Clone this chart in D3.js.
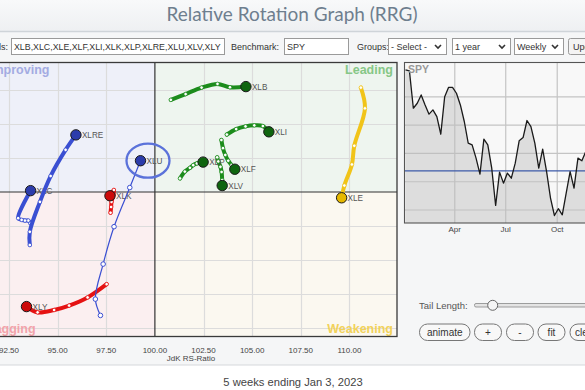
<!DOCTYPE html>
<html><head><meta charset="utf-8">
<script src="https://cdn.jsdelivr.net/npm/d3@7/dist/d3.min.js"></script>
<style>
html,body{margin:0;padding:0;background:#f5f6f7;overflow:hidden;}
svg{display:block;font-family:Arial,"Liberation Sans",sans-serif;}
</style></head><body>
<svg id="c" width="585" height="390"></svg>
<script>
// ---------- DATA ----------
const sectors = ["XLB","XLC","XLE","XLF","XLI","XLK","XLP","XLRE","XLU","XLV","XLY"];
const XLB_ratio = [100.82,101.58,102.40,103.22,103.86,104.68];
const XLB_mom   = [102.71,102.88,103.07,103.18,103.08,103.10];
const XLC_ratio = [93.60,93.49,93.32,93.15,92.97,93.61];
const XLC_mom   = [99.08,99.16,99.16,99.18,99.23,100.04];
const XLE_ratio = [110.59,110.80,110.25,110.13,109.74,109.60];
const XLE_mom   = [103.07,102.46,101.36,100.81,100.19,99.83];
const XLF_ratio = [103.42,103.50,103.62,103.77,103.94,104.11];
const XLF_mom   = [101.53,101.29,101.09,100.92,100.79,100.67];
const XLI_ratio = [103.70,104.18,104.66,105.11,105.55,105.86];
const XLI_mom   = [101.69,101.85,101.93,101.96,101.94,101.77];
const XLK_ratio = [97.72,97.75,97.77,97.87,97.89,97.69];
const XLK_mom   = [99.39,99.56,99.71,99.91,100.06,99.89];
const XLP_ratio = [101.29,101.54,101.80,101.97,102.16,102.48];
const XLP_mom   = [100.40,100.60,100.71,100.79,100.84,100.88];
const XLRE_ratio = [93.57,93.57,94.09,94.64,95.41,95.94];
const XLRE_mom   = [98.44,98.83,99.71,100.47,101.24,101.68];
const XLU_ratio = [97.20,96.94,97.34,97.90,98.71,99.26];
const XLU_mom   = [96.37,96.85,97.88,98.98,100.13,100.92];
const XLV_ratio = [103.20,103.26,103.37,103.43,103.46,103.46];
const XLV_mom   = [101.02,100.90,100.74,100.59,100.35,100.19];
const XLY_ratio = [97.52,96.54,95.59,94.82,93.97,93.40];
const XLY_mom   = [97.29,96.90,96.66,96.53,96.46,96.63];

const xTicks = [92.5,95,97.5,100,102.5,105,107.5,110];
const yGrid  = [96,97,98,99,100,101,102,103];

const spyStart = new Date(2022,0,3);
const spyValues = [479.1,478.4,452.0,455.5,461.4,454.3,447.8,450.8,446.1,433.6,460.2,466.8,466.8,462.6,454.3,442.6,427.3,426.1,416.7,405.4,430.1,426.1,409.6,383.2,406.8,399.0,406.1,402.5,413.1,428.9,431.2,443.3,439.0,427.3,409.6,423.0,407.2,388.4,376.1,380.9,376.6,391.9,407.2,395.5,416.7,414.8,421.4];
const spyRef = 407.7;
const spyGrid = [380,400,420,440,460];
const monthLabels = ["Apr","Jul","Oct","Jan"];
const monthDates = [new Date(2022,3,1),new Date(2022,6,1),new Date(2022,9,1),new Date(2023,0,1)];

// ---------- SETUP ----------
const svg = d3.select("#c");
const defs = svg.append("defs");
const trailData = {
  XLB:[XLB_ratio,XLB_mom], XLC:[XLC_ratio,XLC_mom], XLE:[XLE_ratio,XLE_mom], XLF:[XLF_ratio,XLF_mom],
  XLI:[XLI_ratio,XLI_mom], XLK:[XLK_ratio,XLK_mom], XLP:[XLP_ratio,XLP_mom], XLRE:[XLRE_ratio,XLRE_mom],
  XLU:[XLU_ratio,XLU_mom], XLV:[XLV_ratio,XLV_mom], XLY:[XLY_ratio,XLY_mom]
};

// header
const hg = defs.append("linearGradient").attr("id","hg").attr("x1",0).attr("x2",0).attr("y1",0).attr("y2",1);
hg.append("stop").attr("offset","0").attr("stop-color","#f8f9fa");
hg.append("stop").attr("offset","1").attr("stop-color","#eef0f2");
svg.append("rect").attr("x",0).attr("y",0).attr("width",585).attr("height",31).attr("fill","url(#hg)");
svg.append("text").attr("x",292).attr("y",21).attr("text-anchor","middle")
  .attr("font-family","Lato, 'Open Sans', sans-serif").attr("font-size",19).attr("fill","#6e7e8e")
  .text("Relative Rotation Graph (RRG)");
svg.append("line").attr("x1",0).attr("x2",585).attr("y1",31.5).attr("y2",31.5).attr("stroke","#cfd4d9").attr("stroke-width",1.5);

// controls row
const ctl = svg.append("g").attr("font-size",9).attr("fill","#333");
function box(x,w,txt,chev,fs){
  ctl.append("rect").attr("x",x+0.5).attr("y",38.5).attr("width",w).attr("height",16).attr("fill","#fff").attr("stroke","#9a9a9a");
  ctl.append("text").attr("x",x+3).attr("y",50).attr("font-size",fs||9).text(txt);
  if(chev){
    const cx = x+w-8;
    ctl.append("path").attr("d",`M${cx-3},${45} L${cx},${48} L${cx+3},${45}`).attr("fill","none").attr("stroke","#333").attr("stroke-width",1.6);
  }
}
ctl.append("text").attr("x",-1).attr("y",50).text("ls:");
box(11,213,"XLB,XLC,XLE,XLF,XLI,XLK,XLP,XLRE,XLU,XLV,XLY",false,8.8);
ctl.append("text").attr("x",231).attr("y",50).text("Benchmark:");
box(284,64,"SPY",false);
ctl.append("text").attr("x",357).attr("y",50).text("Groups:");
box(388,58,"- Select -",true);
box(452,58,"1 year",true);
box(514,49,"Weekly",true);
ctl.append("rect").attr("x",568.5).attr("y",38.5).attr("width",40).attr("height",16).attr("rx",2).attr("fill","#f4f4f4").attr("stroke","#9a9a9a");
ctl.append("text").attr("x",573).attr("y",50).text("Update");

// ---------- MAIN RRG ----------
const x = d3.scaleLinear().domain([92.5,110]).range([9,349.4]);
const y = d3.scaleLinear().domain([96,103]).range([328,90]);
const P = {l:-16, r:397, t:62, b:336};
const cx0 = x(100), cy0 = y(100);

defs.append("clipPath").attr("id","plotclip").append("rect")
  .attr("x",P.l).attr("y",P.t).attr("width",P.r-P.l).attr("height",P.b-P.t);
const plot = svg.append("g").attr("clip-path","url(#plotclip)");

plot.append("rect").attr("x",P.l).attr("y",P.t).attr("width",cx0-P.l).attr("height",cy0-P.t).attr("fill","#eef0f9");
plot.append("rect").attr("x",cx0).attr("y",P.t).attr("width",P.r-cx0).attr("height",cy0-P.t).attr("fill","#eef5ef");
plot.append("rect").attr("x",P.l).attr("y",cy0).attr("width",cx0-P.l).attr("height",P.b-cy0).attr("fill","#fbeff0");
plot.append("rect").attr("x",cx0).attr("y",cy0).attr("width",P.r-cx0).attr("height",P.b-cy0).attr("fill","#fbf8f0");

plot.selectAll(".vg").data(xTicks.filter(d=>d!==100)).join("line")
  .attr("x1",d=>Math.round(x(d))+0.5).attr("x2",d=>Math.round(x(d))+0.5).attr("y1",P.t).attr("y2",P.b)
  .attr("stroke","#dcdcdc").attr("stroke-width",1.2);
plot.selectAll(".hg").data(yGrid.filter(d=>d!==100)).join("line")
  .attr("y1",d=>Math.round(y(d))+0.5).attr("y2",d=>Math.round(y(d))+0.5).attr("x1",P.l).attr("x2",P.r)
  .attr("stroke","#dcdcdc").attr("stroke-width",1.2);

plot.append("line").attr("x1",cx0).attr("x2",cx0).attr("y1",P.t).attr("y2",P.b).attr("stroke","#333").attr("stroke-width",1.2);
plot.append("line").attr("x1",P.l).attr("x2",P.r).attr("y1",cy0).attr("y2",cy0).attr("stroke","#333").attr("stroke-width",1.2);

// quadrant labels
const ql = plot.append("g").attr("font-size",12.5).attr("font-weight","bold");
ql.append("text").attr("x",-11).attr("y",74).attr("fill","#a3abe2").text("Improving");
ql.append("text").attr("x",393).attr("y",74).attr("text-anchor","end").attr("fill","#86c786").text("Leading");
ql.append("text").attr("x",-13).attr("y",333).attr("fill","#f2a3aa").text("Lagging");
ql.append("text").attr("x",393).attr("y",333).attr("text-anchor","end").attr("fill","#f2d25a").text("Weakening");

// trails
const styles = {
  green:{line:"#1c8c1c",head:"#0f650f"},
  blue:{line:"#3a4fd2",head:"#2c3cab"},
  red:{line:"#e51212",head:"#cc0a0a"},
  yellow:{line:"#f1c419",head:"#e6b800"}
};
const colorOf = {XLB:"green",XLF:"green",XLI:"green",XLP:"green",XLV:"green",XLE:"yellow",XLRE:"blue",XLC:"blue",XLU:"blue",XLK:"red",XLY:"red"};
const lineGen = d3.line().x(d=>x(d[0])).y(d=>y(d[1])).curve(d3.curveCatmullRom.alpha(0.5));
const order = ["XLE","XLB","XLI","XLF","XLV","XLP","XLC","XLRE","XLK","XLY","XLU"];
const tg = plot.append("g");
order.forEach(s=>{
  const pts = trailData[s][0].map((r,i)=>[r,trailData[s][1][i]]);
  const st = styles[colorOf[s]];
  const thin = s==="XLU";
  const g = tg.append("g");
  g.append("path").attr("d",lineGen(pts)).attr("fill","none").attr("stroke",st.line)
    .attr("stroke-width",thin?1.2:4).attr("stroke-linecap","round");
  g.selectAll("circle.t").data(pts.slice(0,-1)).join("circle")
    .attr("cx",d=>x(d[0])).attr("cy",d=>y(d[1])).attr("r",thin?2.3:1.8)
    .attr("fill","#fff").attr("stroke",st.line).attr("stroke-width",thin?1:0.8);
  const h = pts[pts.length-1];
  g.append("circle").attr("cx",x(h[0])).attr("cy",y(h[1])).attr("r",5.2)
    .attr("fill",st.head).attr("stroke","#1a1a1a").attr("stroke-width",1);
  g.append("text").attr("x",x(h[0])+6).attr("y",y(h[1])+3).attr("font-size",8.2).attr("fill","#555").text(s);
});
// highlight ellipse on XLU
const xluHead = [XLU_ratio[5],XLU_mom[5]];
plot.append("ellipse").attr("cx",x(xluHead[0])+7.5).attr("cy",y(xluHead[1])).attr("rx",21.5).attr("ry",17)
  .attr("fill","none").attr("stroke","#5b72da").attr("stroke-width",2.3);

// border
svg.append("rect").attr("x",P.l).attr("y",P.t+0.5).attr("width",P.r-P.l).attr("height",P.b-P.t).attr("fill","none").attr("stroke","#3a3a3a").attr("stroke-width",1.3);

// axis labels
svg.append("g").selectAll("text").data(xTicks).join("text")
  .attr("x",d=>x(d)).attr("y",353).attr("text-anchor","middle").attr("font-size",8).attr("fill","#444")
  .text(d3.format(".2f"));
svg.append("text").attr("x",191).attr("y",361).attr("text-anchor","middle").attr("font-size",8).attr("fill","#444").text("JdK RS-Ratio");

// bottom band
svg.append("rect").attr("x",0).attr("y",365).attr("width",585).attr("height",25).attr("fill","#fff");
svg.append("line").attr("x1",0).attr("x2",585).attr("y1",365).attr("y2",365).attr("stroke","#d5d8db").attr("stroke-width",1.2);
svg.append("text").attr("x",293).attr("y",386).attr("text-anchor","middle").attr("font-size",11.2).attr("fill","#444")
  .text("5 weeks ending Jan 3, 2023");

// ---------- SPY PANEL ----------
const sx = d3.scaleTime().domain([spyStart,new Date(2023,0,2)]).range([405.5,609.3]);
const sy = d3.scaleLinear().domain([370.8,484.7]).range([223,62]);
const spyPts = spyValues.map((v,i)=>[d3.timeWeek.offset(spyStart,i),v]);
const SP = {l:404.5,t:62.5,r:612,b:223};
svg.append("rect").attr("x",SP.l).attr("y",SP.t).attr("width",SP.r-SP.l).attr("height",SP.b-SP.t).attr("fill","#f8f8f8");
svg.append("g").selectAll("line").data(monthDates).join("line")
  .attr("x1",d=>sx(d)).attr("x2",d=>sx(d)).attr("y1",SP.t).attr("y2",SP.b).attr("stroke","#c4c4c4").attr("stroke-width",1.2);
svg.append("g").selectAll("line").data(spyGrid).join("line")
  .attr("y1",d=>sy(d)).attr("y2",d=>sy(d)).attr("x1",SP.l).attr("x2",SP.r).attr("stroke","#c4c4c4").attr("stroke-width",1.2);
svg.append("path").datum(spyPts).attr("d",d3.area().x(d=>sx(d[0])).y0(SP.b).y1(d=>sy(d[1])))
  .attr("fill","#bdbdbd").attr("fill-opacity",0.45);
svg.append("line").attr("x1",SP.l).attr("x2",SP.r).attr("y1",sy(spyRef)).attr("y2",sy(spyRef)).attr("stroke","#3d5aa8").attr("stroke-width",1.1);
svg.append("path").datum(spyPts).attr("d",d3.line().x(d=>sx(d[0])).y(d=>sy(d[1])))
  .attr("fill","none").attr("stroke","#1a1a1a").attr("stroke-width",1.3).attr("stroke-linejoin","round");
svg.append("rect").attr("x",SP.l).attr("y",SP.t).attr("width",SP.r-SP.l).attr("height",SP.b-SP.t).attr("fill","none").attr("stroke","#555").attr("stroke-width",1.1);
svg.append("text").attr("x",408).attr("y",73).attr("font-size",10.5).attr("font-weight","bold").attr("fill","#999").text("SPY");
svg.append("g").selectAll("text").data(monthDates).join("text")
  .attr("x",d=>sx(d)).attr("y",232).attr("text-anchor","middle").attr("font-size",8).attr("fill","#444")
  .text((d,i)=>monthLabels[i]);

// tail length + buttons
svg.append("text").attr("x",419).attr("y",308.5).attr("font-size",9.5).attr("fill","#555").text("Tail Length:");
svg.append("rect").attr("x",474.5).attr("y",303.5).attr("width",130).attr("height",3.5).attr("rx",1.5).attr("fill","#e4e4e4").attr("stroke","#888").attr("stroke-width",0.8);
svg.append("circle").attr("cx",492.7).attr("cy",305.3).attr("r",5).attr("fill","#f5f5f5").attr("stroke","#666").attr("stroke-width",1);
const btns = [["animate",419.5,50.5],["+",474.5,27],["-",506.5,27],["fit",538,27],["clear",570,30]];
btns.forEach(b=>{
  svg.append("rect").attr("x",b[1]).attr("y",324).attr("width",b[2]).attr("height",16.5).attr("rx",8)
    .attr("fill","#f8f8f8").attr("stroke","#777").attr("stroke-width",1);
  svg.append("text").attr("x",b[1]+b[2]/2).attr("y",335.5).attr("text-anchor",b[0]==="clear"?"start":"middle")
    .attr("dx",b[0]==="clear"?-10:0).attr("font-size",10).attr("fill","#333").text(b[0]);
});
</script></body></html>
